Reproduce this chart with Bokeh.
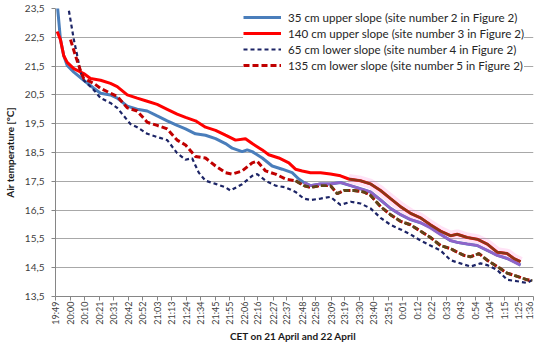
from bokeh.plotting import figure
from bokeh.models import Range1d, FixedTicker, Legend, LegendItem
from bokeh.embed import file_html
from bokeh.resources import INLINE
import math

# x tick labels (CET clock times)
tick_labels = ["19:49", "20:00", "20:10", "20:21", "20:31", "20:42", "20:52", "21:03", "21:13",
               "21:24", "21:34", "21:45", "21:55", "22:06", "22:16", "22:27", "22:37", "22:48",
               "22:58", "23:09", "23:19", "23:30", "23:40", "23:51", "0:01", "0:12", "0:22",
               "0:33", "0:43", "0:54", "1:04", "1:15", "1:25", "1:36"]
y_ticks = [13.5, 14.5, 15.5, 16.5, 17.5, 18.5, 19.5, 20.5, 21.5, 22.5, 23.5]

# minutes after 19:49
blue_t = [1.2, 3.6, 6.0, 8.5, 13.3, 20.5, 27.8, 32.7, 39.9, 44.8, 52.1, 59.3, 66.6, 73.8, 81.1,
          88.3, 94.4, 101.6, 108.9, 116.2, 123.4, 128.3, 135.5, 139.2, 142.8, 150.1, 157.3, 164.6,
          171.8, 176.6, 180.3, 185.1, 192.4, 199.6, 206.9, 214.2, 221.4, 228.7, 236.0, 243.2, 250.5,
          257.7, 265.0, 272.2, 279.5, 286.8, 291.6, 298.9, 306.1, 313.4, 320.7, 327.9, 332.7, 337.6]
blue_v = [23.7, 22.42, 21.86, 21.52, 21.29, 21.01, 20.73, 20.56, 20.50, 20.39, 20.11, 20.00, 19.94,
          19.77, 19.60, 19.44, 19.32, 19.15, 19.10, 18.98, 18.81, 18.65, 18.53, 18.59, 18.53, 18.31,
          18.03, 17.92, 17.80, 17.58, 17.46, 17.35, 17.41, 17.41, 17.46, 17.35, 17.24, 17.13, 16.85,
          16.56, 16.34, 16.17, 16.06, 15.89, 15.66, 15.44, 15.38, 15.32, 15.27, 15.10, 14.93, 14.82,
          14.71, 14.59]

red_t = [1.2, 3.6, 6.0, 8.5, 13.3, 20.5, 25.4, 32.7, 39.9, 44.8, 52.1, 59.3, 66.6, 73.8, 81.1,
         88.3, 94.4, 101.6, 108.9, 116.2, 123.4, 130.7, 137.9, 142.8, 150.1, 154.8, 162.1, 169.4,
         174.2, 179.1, 185.1, 192.4, 199.6, 206.9, 212.9, 221.4, 228.7, 236.0, 243.2, 250.5, 257.7,
         265.0, 272.2, 279.5, 286.8, 291.6, 298.9, 306.1, 313.4, 320.7, 327.9, 332.7, 337.6]
red_v = [22.70, 22.42, 21.86, 21.63, 21.41, 21.24, 21.07, 21.01, 20.90, 20.79, 20.50, 20.39, 20.28,
         20.17, 20.00, 19.83, 19.72, 19.60, 19.38, 19.27, 19.10, 18.93, 18.98, 18.81, 18.59, 18.42,
         18.31, 18.14, 17.92, 17.86, 17.80, 17.80, 17.75, 17.69, 17.58, 17.52, 17.41, 17.18, 16.90,
         16.62, 16.39, 16.23, 15.99, 15.77, 15.61, 15.66, 15.55, 15.49, 15.32, 15.04, 14.99, 14.82,
         14.71]

navy_t = [8.0, 10.9, 13.3, 15.8, 18.1, 20.5, 27.8, 32.7, 39.9, 44.8, 49.6, 54.4, 59.3, 66.6, 73.8,
          81.1, 88.3, 94.4, 99.2, 104.0, 108.9, 116.2, 123.4, 127.0, 135.5, 142.8, 146.4, 152.5,
          159.7, 167.0, 174.2, 180.3, 185.1, 192.4, 199.6, 206.9, 214.2, 221.4, 228.7, 236.0, 243.2,
          250.5, 257.7, 265.0, 272.2, 279.5, 286.8, 294.0, 301.3, 308.5, 313.4, 320.7, 327.9, 335.2,
          342.4, 346.1]
navy_v = [23.9, 23.1, 22.42, 21.86, 21.29, 21.01, 20.67, 20.39, 20.22, 20.05, 19.77, 19.49, 19.38,
          19.15, 19.04, 18.93, 18.48, 18.25, 18.30, 17.80, 17.52, 17.41, 17.29, 17.18, 17.40, 17.69,
          17.75, 17.52, 17.35, 17.29, 17.13, 16.90, 16.85, 16.90, 16.96, 16.68, 16.79, 16.73, 16.56,
          16.23, 15.99, 15.83, 15.66, 15.44, 15.27, 15.10, 14.76, 14.65, 14.54, 14.65, 14.59, 14.42,
          14.08, 14.03, 13.97, 14.08]

rd_t = [10.9, 14.5, 18.1, 20.5, 27.8, 32.7, 39.9, 44.8, 52.1, 59.3, 66.6, 73.8, 81.1, 88.3, 94.4,
        101.6, 108.9, 116.2, 123.4, 128.3, 135.5, 142.8, 146.4, 152.5, 159.7, 167.0, 174.2, 180.3,
        185.1, 192.4, 199.6, 204.5, 209.3, 216.6, 223.8, 228.7, 236.0, 243.2, 250.5, 257.7, 265.0,
        272.2, 279.5, 286.8, 291.6, 296.4, 301.3, 307.4, 313.4, 320.7, 327.9, 335.2, 342.4, 346.1]
rd_v = [22.42, 21.86, 21.35, 21.07, 20.90, 20.73, 20.56, 20.45, 20.05, 19.94, 19.55, 19.44, 19.32,
        18.93, 18.76, 18.36, 18.31, 18.03, 17.80, 17.75, 17.86, 18.14, 18.20, 17.86, 17.75, 17.58,
        17.52, 17.35, 17.29, 17.35, 17.35, 17.07, 17.18, 17.18, 17.13, 17.01, 16.62, 16.34, 16.11,
        15.99, 15.77, 15.55, 15.27, 15.16, 15.04, 14.93, 14.88, 14.99, 14.76, 14.54, 14.31, 14.20,
        14.08, 14.06]

labels = ["35 cm upper slope (site number 2 in Figure 2)",
          "140 cm upper slope (site number 3 in Figure 2)",
          "65 cm lower slope (site number 4 in Figure 2)",
          "135 cm lower slope (site number 5 in Figure 2)"]


def to_min(s):
    h, m = map(int, s.split(":"))
    t = h * 60 + m
    if h < 12:
        t += 1440
    return t - (19 * 60 + 49)


def tail(ts, vs, start):
    idx = [i for i, t in enumerate(ts) if t >= start]
    i0 = idx[0]
    return ts[i0:], vs[i0:]


tick_pos = [to_min(s) for s in tick_labels]

FONT = "Lato"
p = figure(width=534, height=344, output_backend="svg", toolbar_location=None,
           x_range=Range1d(0, tick_pos[-1]), y_range=Range1d(y_ticks[0], y_ticks[-1]),
           min_border_left=55, min_border_right=1, min_border_top=8, min_border_bottom=0)
p.outline_line_color = None
p.background_fill_color = "white"
p.border_fill_color = "white"

p.xgrid.visible = False
p.ygrid.grid_line_color = "#a8a8a8"
p.ygrid.grid_line_width = 1
p.ygrid.ticker = FixedTicker(ticks=y_ticks)

p.xaxis.ticker = FixedTicker(ticks=tick_pos)
p.xaxis.major_label_overrides = {tp: lab for tp, lab in zip(tick_pos, tick_labels)}
p.xaxis.major_label_orientation = math.pi / 2
p.yaxis.ticker = FixedTicker(ticks=y_ticks)
p.yaxis.major_label_overrides = {v: ("%.1f" % v).replace(".", ",") for v in y_ticks}

for ax in (p.xaxis, p.yaxis):
    ax.axis_line_color = "#868686"
    ax.major_tick_line_color = "#868686"
    ax.major_tick_out = 4
    ax.major_tick_in = 0
    ax.minor_tick_line_color = None
    ax.major_label_text_font = FONT
    ax.major_label_text_color = "#404040"
    ax.axis_label_text_font = FONT
    ax.axis_label_text_font_style = "bold"
    ax.axis_label_text_font_size = "10px"
    ax.axis_label_text_color = "#1a1a1a"

p.xaxis.major_label_text_font_size = "9px"
p.yaxis.major_label_text_font_size = "10px"
p.xaxis.major_label_standoff = 1
p.yaxis.major_label_standoff = 7
p.xaxis.axis_label = "CET on 21 April  and 22 April"
p.yaxis.axis_label = "Air temperature [°C]"
p.xaxis.axis_label_standoff = 2
p.yaxis.axis_label_standoff = 6

r1 = p.line(blue_t, blue_v, line_color="#4a7ebb", line_width=3)
r2 = p.line(red_t, red_v, line_color="#ff0000", line_width=3)
r3 = p.line(navy_t, navy_v, line_color="#1c2466", line_width=2.2, line_dash="4 3")
r4 = p.line(rd_t, rd_v, line_color="#c00000", line_width=3, line_dash="6 3")

# later part of the record: tinted overlay as in the source figure
bt, bv = tail(blue_t, blue_v, 178)
rt, rv = tail(red_t, red_v, 209)
dt, dv = tail(rd_t, rd_v, 174)
p.line(rt, rv, line_color="#ff66cc", line_alpha=0.18, line_width=10)
p.line(bt, bv, line_color="#8f63c9", line_width=2.6)
p.line(rt, rv, line_color="#8c3516", line_width=2.6)
p.line(dt, dv, line_color="#5e4518", line_width=2.8, line_dash="6 3")

legend = Legend(items=[LegendItem(label=labels[0], renderers=[r1]),
                       LegendItem(label=labels[1], renderers=[r2]),
                       LegendItem(label=labels[2], renderers=[r3]),
                       LegendItem(label=labels[3], renderers=[r4])],
                location=(188, 223))
legend.border_line_color = None
legend.background_fill_color = "white"
legend.background_fill_alpha = 1.0
legend.label_text_font = FONT
legend.label_text_font_size = "11.6px"
legend.label_text_color = "#262626"
legend.glyph_width = 38
legend.glyph_height = 16
legend.label_height = 16
legend.label_standoff = 7
legend.spacing = 0
legend.padding = 3
legend.margin = 0
p.add_layout(legend)

open("out.html", "w").write(file_html(p, INLINE))
